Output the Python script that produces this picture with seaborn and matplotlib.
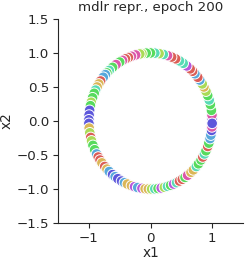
import numpy as np
import pandas as pd
import matplotlib
matplotlib.use("Agg")
import matplotlib.pyplot as plt
import seaborn as sns

angles_deg = [2, 5, 9, 14, 18, 22, 26, 30, 33, 37, 40, 44, 47, 50, 54, 58, 62, 66, 70, 74,
              78, 82, 86, 90, 94, 98, 100, 104, 108, 111, 114, 117, 120, 124, 128, 132, 135,
              137, 140, 144, 147, 150, 153, 156, 160, 164, 167, 171, 175, 179, 182, 186, 190,
              194, 197, 201, 205, 209, 212, 215, 218, 222, 225, 228, 232, 235, 238, 242, 245,
              248, 252, 255, 258, 262, 265, 268, 271, 274, 277, 280, 283, 286, 289, 292, 295,
              298, 301, 304, 307, 311, 314, 318, 321, 325, 328, 331, 334, 338, 341, 345, 348,
              352, 355, 358]
labels = [6, 8, 3, 3, 4, 3, 2, 1, 2, 5, 9, 5, 0, 0, 7, 4, 4, 0, 0, 8,
          4, 2, 4, 3, 3, 2, 2, 8, 8, 0, 0, 8, 3, 8, 3, 4, 3,
          5, 5, 9, 1, 1, 4, 3, 3, 2, 3, 6, 6, 6, 6, 1, 2,
          0, 2, 3, 3, 5, 9, 9, 1, 0, 1, 5, 6, 5, 6, 6, 5,
          1, 1, 7, 5, 7, 1, 1, 2, 4, 3, 7, 2, 4, 3, 7, 4,
          0, 0, 3, 8, 1, 1, 4, 3, 3, 0, 4, 3, 0, 3, 5, 5,
          6, 8, 6]

ang = np.deg2rad(np.array(angles_deg, dtype=float))
df = pd.DataFrame({"x1": np.cos(ang), "x2": np.sin(ang), "label": labels})

sns.set_style("ticks")
fig = plt.figure(figsize=(2.49, 2.63), dpi=100)
ax = fig.add_axes([0.233, 0.152, 0.743, 0.776])
sns.scatterplot(data=df, x="x1", y="x2", hue="label", palette="hls",
                s=58, edgecolor="white", linewidth=0.7, legend=False, ax=ax)
ax.set_xlim(-1.5, 1.5)
ax.set_ylim(-1.5, 1.5)
ax.set_xticks([-1, 0, 1])
ax.set_yticks([-1.5, -1.0, -0.5, 0.0, 0.5, 1.0, 1.5])
ax.tick_params(labelsize=9.6, pad=3)
ax.set_xlabel("x1", fontsize=9.8, labelpad=1)
ax.set_ylabel("x2", fontsize=9.8, labelpad=2)
ax.set_title("mdlr repr., epoch 200", fontsize=9.6, pad=6)
sns.despine(ax=ax)
fig.savefig("out.png", dpi=100)
